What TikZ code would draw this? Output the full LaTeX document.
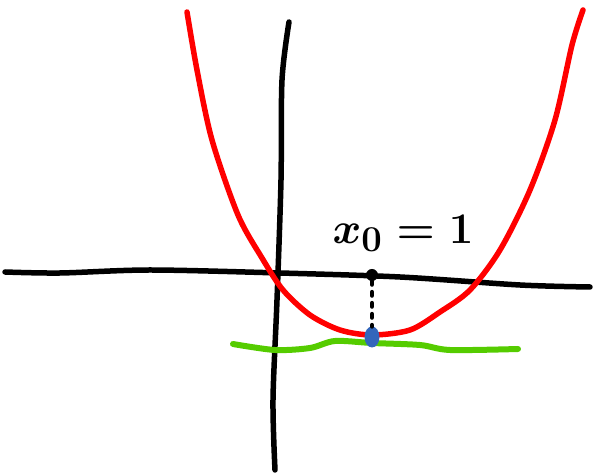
\documentclass[tikz,border=0pt]{standalone}
\usepackage{tikz}
\usetikzlibrary{positioning,calc}
\definecolor{curvered}{HTML}{FF0000}
\definecolor{tangentgreen}{HTML}{55CC00}
\definecolor{dotblue}{HTML}{3366BB}
\tikzset{
  axis/.style={black, line width=0.11cm, line cap=round},
  curve/.style={curvered, line width=0.11cm, line cap=round},
  tangent/.style={tangentgreen, line width=0.12cm, line cap=round},
  drop/.style={black, line width=0.1cm, dash pattern=on 0.06cm off 0.16cm, line cap=round},
  markdot/.style={circle, fill=black, inner sep=0pt, minimum size=0.24cm},
  mindot/.style={ellipse, fill=dotblue, inner sep=0pt, minimum width=0.3cm, minimum height=0.42cm},
  lbl/.style={font=\sffamily\Huge\boldmath, text=black},
}
\usetikzlibrary{shapes.geometric}
\begin{document}
\begin{tikzpicture}[x=0.02cm,y=-0.02cm]
  \useasboundingbox (0,0) rectangle (593,476);
  % axes
  \draw[axis] plot[smooth] coordinates {(5,272) (60,273) (150,270) (280,273) (400,277) (520,285) (590,287)};
  \draw[axis] plot[smooth] coordinates {(289,22) (282,80) (281,180) (277,300) (273,400) (275,470)};
  % tangent at the minimum
  \draw[tangent] plot[smooth] coordinates {(233,344) (275,350) (310,348) (335,341) (372,343) (420,345) (450,350) (518,349)};
  % the parabola
  \draw[curve] plot[smooth] coordinates {(187,12) (197,70) (212,140) (238,215) (262,258) (283,290) (310,315) (340,330) (372,335) (410,330) (440,312) (470,290) (500,250) (530,190) (555,120) (572,45) (583,10)};
  % minimum point and its drop to the axis
  \node[markdot] (x0) at (372,275) {};
  \node[mindot] (min) at (372,337) {};
  \draw[drop] (x0) -- (min);
  \node[lbl] (lab) at (403,233) {$x_0 = 1$};
\end{tikzpicture}
\end{document}
